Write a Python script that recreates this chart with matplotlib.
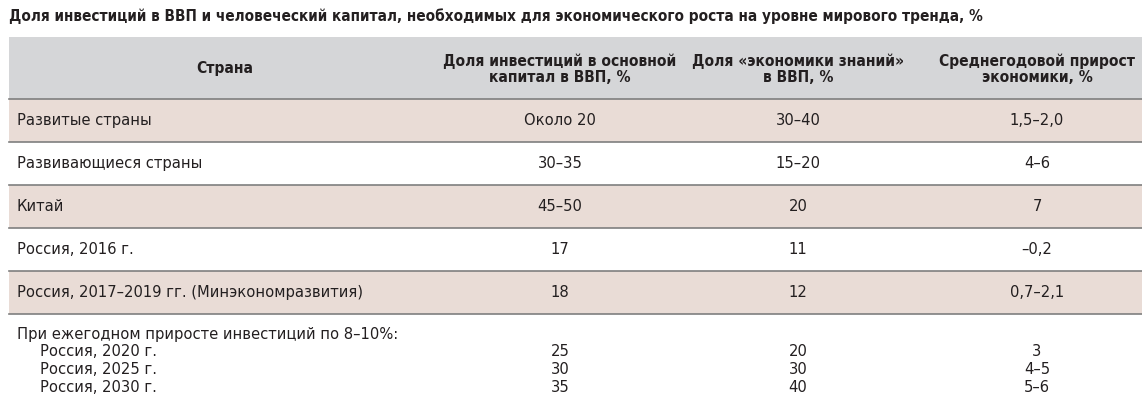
import matplotlib
matplotlib.use("Agg")
import matplotlib.pyplot as plt
from matplotlib.patches import Rectangle

title = "Доля инвестиций в ВВП и человеческий капитал, необходимых для экономического роста на уровне мирового тренда, %"
headers = ["Страна", "Доля инвестиций в основной\nкапитал в ВВП, %", "Доля «экономики знаний»\nв ВВП, %", "Среднегодовой прирост\nэкономики, %"]
countries = ["Развитые страны", "Развивающиеся страны", "Китай", "Россия, 2016 г.", "Россия, 2017–2019 гг. (Минэкономразвития)"]
invest = ["Около 20", "30–35", "45–50", "17", "18"]
knowledge = ["30–40", "15–20", "20", "11", "12"]
growth = ["1,5–2,0", "4–6", "7", "–0,2", "0,7–2,1"]
scen_title = "При ежегодном приросте инвестиций по 8–10%:"
scen_countries = ["Россия, 2020 г.", "Россия, 2025 г.", "Россия, 2030 г."]
scen_invest = ["25", "30", "35"]
scen_knowledge = ["20", "30", "40"]
scen_growth = ["3", "4–5", "5–6"]

W, H = 1142, 416
fig = plt.figure(figsize=(W/100, H/100), dpi=100)
ax = fig.add_axes([0, 0, 1, 1])
ax.set_xlim(0, W); ax.set_ylim(H, 0); ax.axis("off")
fam = "DejaVu Sans"
kw = dict(family=fam, fontstretch="condensed", color="#231f20")
fs = 11.8

ax.text(9, 16, title, fontsize=11.0, fontweight="bold", va="center", ha="left", **kw)
x0, x1 = 9, 1142
ax.add_patch(Rectangle((x0, 37), x1-x0, 62, color="#d5d6d8", lw=0))
cols = [225, 560, 798, 1037]
for c, h in zip(cols, headers):
    ax.text(c, 69, h, fontsize=11.2, fontweight="bold", ha="center", va="center", linespacing=1.1, **kw)
rowh = 43
top = 99
for i, (cn, a, b, g) in enumerate(zip(countries, invest, knowledge, growth)):
    y = top + i*rowh
    if i % 2 == 0:
        ax.add_patch(Rectangle((x0, y), x1-x0, rowh, color="#e9dcd6", lw=0))
    ax.plot([x0, x1], [y, y], color="#7f7f7f", lw=1.2)
    yc = y + rowh/2
    ax.text(17, yc, cn, fontsize=fs, ha="left", va="center", **kw)
    for c, v in zip(cols[1:], (a, b, g)):
        ax.text(c, yc, v, fontsize=fs, ha="center", va="center", **kw)
ax.plot([x0, x1], [top+5*rowh]*2, color="#7f7f7f", lw=1.2)
ax.text(17, 334, scen_title, fontsize=fs, ha="left", va="center", **kw)
for j, (cn, a, b, g) in enumerate(zip(scen_countries, scen_invest, scen_knowledge, scen_growth)):
    yc = 352 + j*17.5
    ax.text(40, yc, cn, fontsize=fs, ha="left", va="center", **kw)
    for c, v in zip(cols[1:], (a, b, g)):
        ax.text(c, yc, v, fontsize=fs, ha="center", va="center", **kw)
fig.savefig("out.png", dpi=100)
